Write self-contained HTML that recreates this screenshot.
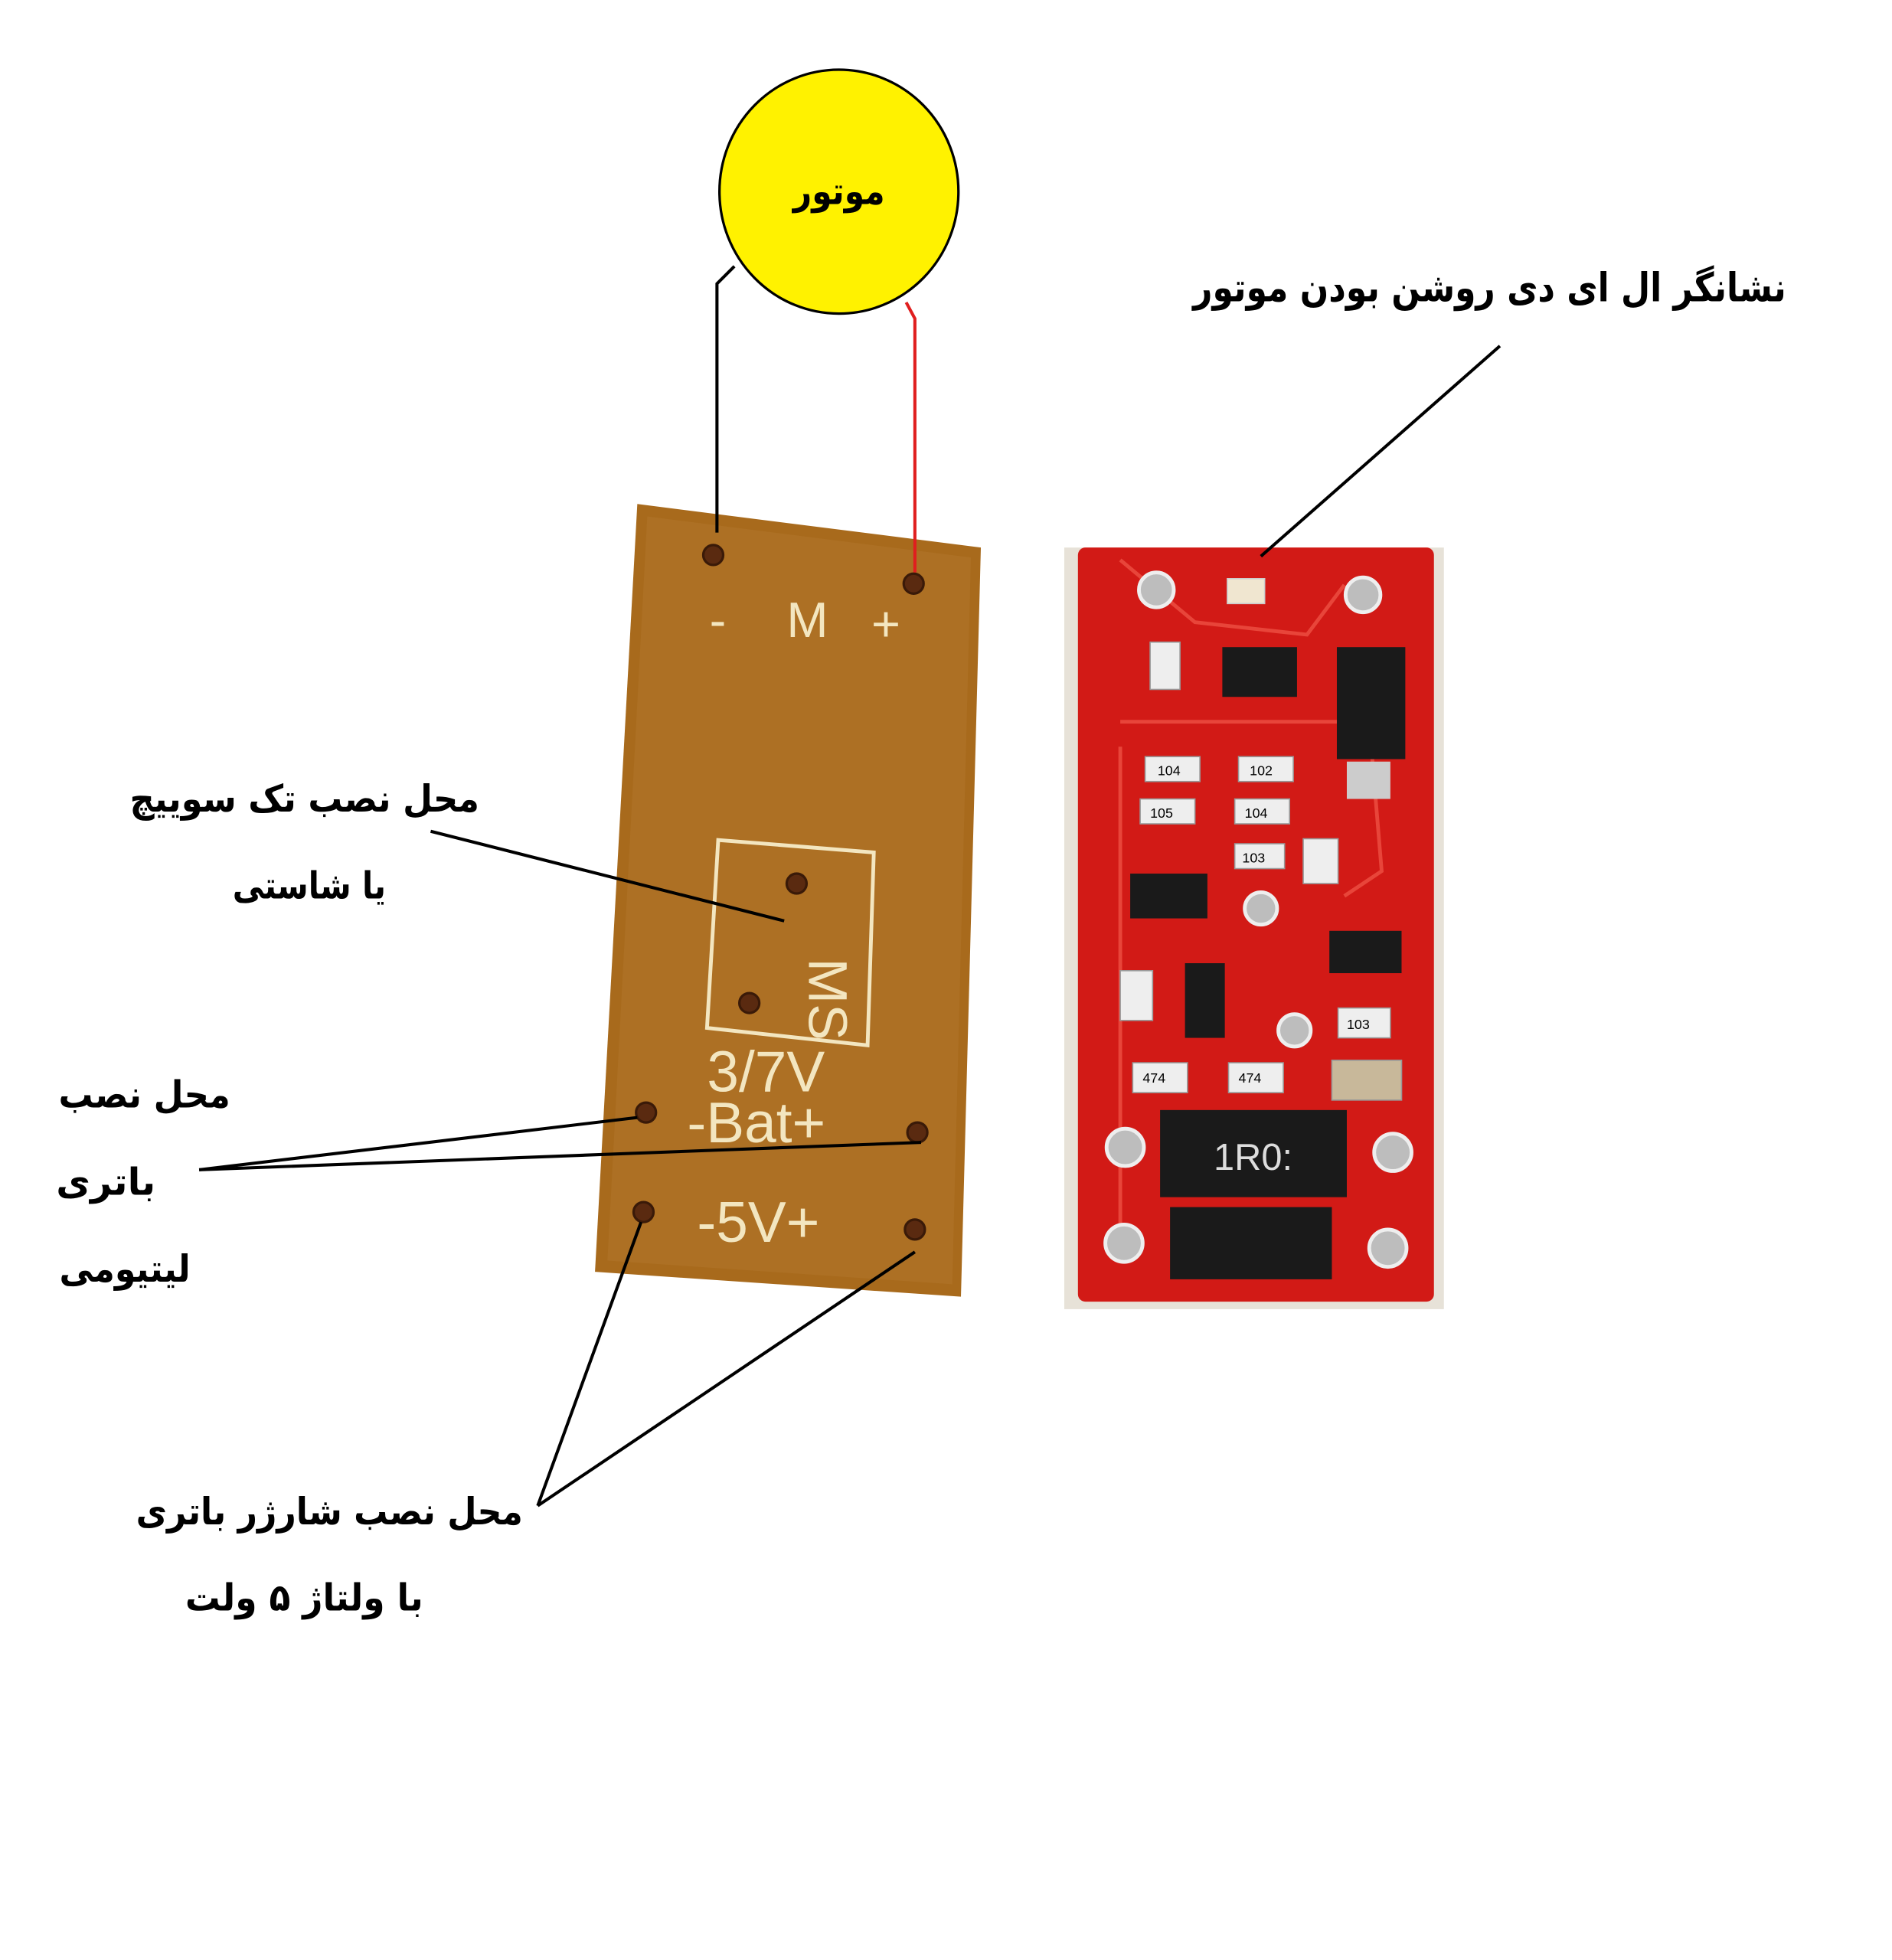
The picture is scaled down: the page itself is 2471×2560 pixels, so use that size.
<!DOCTYPE html>
<html><head><meta charset="utf-8">
<style>
html,body{margin:0;padding:0;background:#fff;}
svg{display:block;}
.fa{font-family:"DejaVu Sans",sans-serif;font-weight:bold;direction:rtl;unicode-bidi:embed;fill:#000;}
.silk{font-family:"Liberation Sans",sans-serif;fill:#f3e6c0;}
.smd{font-family:"Liberation Sans",sans-serif;font-size:11px;fill:#000;}
</style></head>
<body>
<svg width="2471" height="2560" viewBox="0 0 1520 1575" preserveAspectRatio="none" xmlns="http://www.w3.org/2000/svg">
<rect width="1520" height="1575" fill="#fff"/>

<!-- left brown board -->
<polygon points="512,405 788,440 772,1042 478,1022" fill="#a86a1c"/>
<polygon points="520,415 780,448 765,1032 488,1013" fill="#b0752a" opacity="0.6"/>
<g fill="#5a2a10" stroke="#3a1a08" stroke-width="2">
<circle cx="573" cy="446" r="8"/><circle cx="734" cy="469" r="8"/>
<circle cx="640" cy="710" r="8"/><circle cx="602" cy="806" r="8"/>
<circle cx="519" cy="894" r="8"/><circle cx="737" cy="910" r="8"/>
<circle cx="517" cy="974" r="8"/><circle cx="735" cy="988" r="8"/>
</g>
<text class="silk" x="570" y="512" font-size="40">-</text>
<text class="silk" x="632" y="512" font-size="40">M</text>
<text class="silk" x="700" y="515" font-size="40">+</text>
<polygon points="577,675 702,685 697,840 568,826" fill="none" stroke="#f3e6c0" stroke-width="3"/>
<text class="silk" font-size="44" transform="translate(650,770) rotate(90)">MS</text>
<text class="silk" x="568" y="877" font-size="46">3/7V</text>
<text class="silk" x="552" y="918" font-size="46">-Bat+</text>
<text class="silk" x="560" y="998" font-size="46">-5V+</text>

<!-- right red board -->
<rect x="855" y="440" width="305" height="612" fill="#e7e2d8"/>
<rect x="866" y="440" width="286" height="606" rx="6" fill="#d21a16"/>
<g fill="none" stroke="#e8453a" stroke-width="3">
<path d="M900,450 L960,500 L1050,510 L1080,470"/>
<path d="M900,580 L1100,580 L1110,700 L1080,720"/>
<path d="M900,600 L900,1000"/>
</g>
<g fill="#bdbdbd" stroke="#eee" stroke-width="3">
<circle cx="929" cy="474" r="14"/><circle cx="1095" cy="478" r="14"/>
<circle cx="1013" cy="730" r="13"/><circle cx="1040" cy="828" r="13"/>
<circle cx="904" cy="922" r="15"/><circle cx="1119" cy="926" r="15"/>
<circle cx="903" cy="999" r="15"/><circle cx="1115" cy="1003" r="15"/>
</g>
<rect x="986" y="465" width="30" height="20" fill="#f0e6d0" stroke="#ccc"/>
<g fill="#1a1a1a">
<rect x="1074" y="520" width="55" height="90"/>
<rect x="982" y="520" width="60" height="40"/>
<rect x="908" y="702" width="62" height="36"/>
<rect x="1068" y="748" width="58" height="34"/>
<rect x="952" y="774" width="32" height="60"/>
<rect x="932" y="892" width="150" height="70"/>
<rect x="940" y="970" width="130" height="58"/>
</g>
<rect x="1082" y="612" width="35" height="30" fill="#ccc"/>
<g fill="#eee" stroke="#999" stroke-width="1">
<rect x="920" y="608" width="44" height="20"/><rect x="995" y="608" width="44" height="20"/>
<rect x="916" y="642" width="44" height="20"/><rect x="992" y="642" width="44" height="20"/>
<rect x="992" y="678" width="40" height="20"/><rect x="1047" y="674" width="28" height="36"/>
<rect x="924" y="516" width="24" height="38"/><rect x="1075" y="810" width="42" height="24"/>
<rect x="900" y="780" width="26" height="40"/><rect x="910" y="854" width="44" height="24"/>
<rect x="987" y="854" width="44" height="24"/><rect x="1070" y="852" width="56" height="32" fill="#c8b89a"/>
</g>
<text class="smd" x="930" y="623">104</text><text class="smd" x="1004" y="623">102</text>
<text class="smd" x="924" y="657">105</text><text class="smd" x="1000" y="657">104</text>
<text class="smd" x="998" y="693">103</text><text class="smd" x="1082" y="827">103</text>
<text class="smd" x="918" y="870">474</text><text class="smd" x="995" y="870">474</text>
<text x="975" y="940" font-family="Liberation Sans,sans-serif" font-size="30" fill="#ddd">1R0:</text>

<!-- yellow motor circle -->
<ellipse cx="674" cy="154" rx="96" ry="98" fill="#fff200" stroke="#000" stroke-width="2"/>
<g transform="translate(674,164) scale(0.87,1)"><text class="fa" x="0" y="0" font-size="30" text-anchor="middle">موتور</text></g>

<!-- connector lines -->
<g fill="none" stroke-width="2.5">
<polyline points="590,214 576,228 576,428" stroke="#000"/>
<polyline points="728,243 735,256 735,460" stroke="#e01e1e"/>
</g>
<g stroke="#000" stroke-width="2.5" fill="none">
<line x1="1205" y1="278" x2="1013" y2="447"/>
<line x1="346" y1="668" x2="630" y2="740"/>
<line x1="160" y1="940" x2="512" y2="898"/>
<line x1="160" y1="940" x2="740" y2="918"/>
<line x1="432" y1="1210" x2="515" y2="982"/>
<line x1="432" y1="1210" x2="735" y2="1006"/>
</g>

<!-- labels -->
<g transform="translate(1435,242) scale(0.846,1)"><text class="fa" x="0" y="0" font-size="32" text-anchor="start">نشانگر ال ای دی روشن بودن موتور</text></g>
<g transform="translate(385,652) scale(0.917,1)"><text class="fa" x="0" y="0" font-size="30" text-anchor="start">محل نصب تک سوییچ</text></g>
<g transform="translate(310,722) scale(0.845,1)"><text class="fa" x="0" y="0" font-size="30" text-anchor="start">یا شاستی</text></g>
<g transform="translate(185,890) scale(0.92,1)"><text class="fa" x="0" y="0" font-size="30" text-anchor="start">محل نصب</text></g>
<g transform="translate(125,960)"><text class="fa" x="0" y="0" font-size="30" text-anchor="start">باتری</text></g>
<g transform="translate(153,1030) scale(0.91,1)"><text class="fa" x="0" y="0" font-size="30" text-anchor="start">لیتیومی</text></g>
<g transform="translate(420,1225) scale(0.905,1)"><text class="fa" x="0" y="0" font-size="30" text-anchor="start">محل نصب شارژر باتری</text></g>
<g transform="translate(340,1294) scale(0.935,1)"><text class="fa" x="0" y="0" font-size="30" text-anchor="start">با ولتاژ ۵ ولت</text></g>
</svg>
</body></html>
